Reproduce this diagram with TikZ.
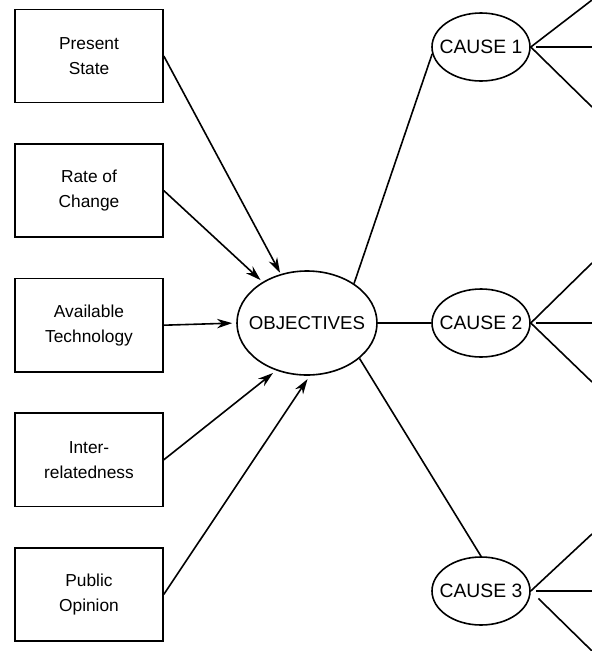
\documentclass[tikz,border=0pt]{standalone}
\usepackage{fontspec}
\setmainfont{Liberation Sans}
\usepackage{tikz}
\usetikzlibrary{arrows.meta, positioning, shapes.geometric}

\begin{document}
\begin{tikzpicture}[
    x=0.75pt, y=-0.75pt,
    >={Stealth[length=4mm, width=2.5mm]},
    factor/.style={draw, very thick, minimum width=111pt, minimum height=70pt, align=center, font=\fontsize{13}{19}\selectfont},
    goal/.style={draw, ellipse, very thick, minimum width=105pt, minimum height=78pt, inner sep=0pt, label={[font=\fontsize{14}{16}\selectfont]center:#1}},
    cause/.style={draw, ellipse, very thick, minimum width=73.5pt, minimum height=51pt, inner sep=0pt, label={[font=\fontsize{14.5}{16}\selectfont]center:#1}},
]
    \useasboundingbox (0,0) rectangle (592,651);
    \node[factor] (ps) at (89,56) {Present\\State};
    \node[factor, below=29.75pt of ps] (rc) {Rate of\\Change};
    \node[factor, below=29.75pt of rc] (at) {Available\\Technology};
    \node[factor, below=29.75pt of at] (ir) {Inter-\\relatedness};
    \node[factor, below=29.75pt of ir] (po) {Public\\Opinion};
    \node[goal=OBJECTIVES] (obj) at (307,323) {};
    \node[cause=CAUSE 1] (c1) at (481,47) {};
    \node[cause=CAUSE 2] (c2) at (481,323) {};
    \node[cause=CAUSE 3] (c3) at (481,591) {};
    \draw[->, very thick, shorten >=1pt] (ps.east) -- (obj);
    \draw[->, very thick, shorten >=2pt] (rc.east) -- (obj);
    \draw[->, very thick, shorten >=3pt] (at.east) -- (obj.west);
    \draw[->, very thick, shorten >=3pt] (ir.east) -- (obj.237);
    \draw[->, very thick, shorten >=3pt] (po.east) -- (obj.273);
    \draw[very thick] (obj.40) -- (c1.188);
    \draw[very thick] (obj.east) -- (c2.west);
    \draw[very thick] (obj.326) -- (c3.north);
    \coordinate (c1a) at (592,0);
    \coordinate (c1b) at (592,47);
    \coordinate (c1c) at (592,107);
    \coordinate (c2a) at (592,263);
    \coordinate (c2b) at (592,323);
    \coordinate (c2c) at (592,382);
    \coordinate (c3a) at (592,534);
    \coordinate (c3b) at (592,591);
    \coordinate (c3c) at (592,651);
    \draw[very thick] (c1.east) -- (c1a);
    \draw[very thick, shorten <=4pt] (c1.east) -- (c1b);
    \draw[very thick] (c1.east) -- (c1c);
    \draw[very thick] (c2.east) -- (c2a);
    \draw[very thick, shorten <=4pt] (c2.east) -- (c2b);
    \draw[very thick] (c2.east) -- (c2c);
    \draw[very thick] (c3.east) -- (c3a);
    \draw[very thick, shorten <=4pt] (c3.east) -- (c3b);
    \draw[very thick, shorten <=8pt] (c3.east) -- (c3c);
\end{tikzpicture}
\end{document}
